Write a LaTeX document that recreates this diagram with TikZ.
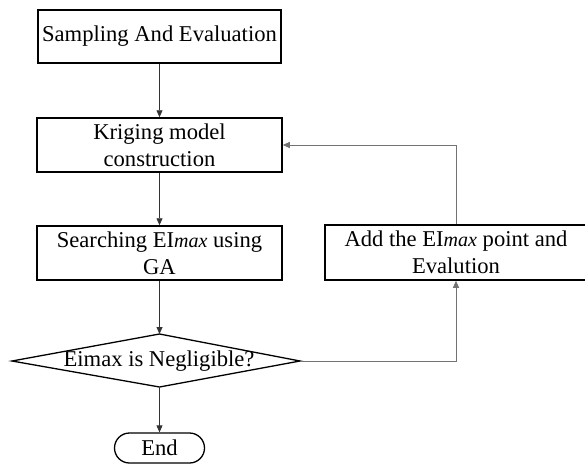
\documentclass[tikz,border=0pt]{standalone}
\usepackage{fontspec}
\setmainfont{Liberation Serif}
\usetikzlibrary{arrows.meta,shapes.misc}
\begin{document}
\begin{tikzpicture}[x=1pt,y=-1pt,
  font=\fontsize{22.6}{27}\selectfont,
  procbox/.style={draw=black,line width=1.5pt,rectangle,inner sep=0pt,align=center},
  decline/.style={draw=black,line width=1.3pt,line join=miter},
  termbox/.style={draw=black,line width=1.3pt,rounded rectangle,inner sep=0pt,minimum width=90pt,minimum height=30pt},
  flow/.style={draw=black!80,line width=0.8pt,-{Triangle[length=7pt,width=6pt]}},
  back/.style={draw=black!55,line width=0.9pt,-{Triangle[length=7pt,width=6pt]}}]
\useasboundingbox (0,0) rectangle (585,466);
\node[procbox,minimum width=243pt,minimum height=53pt] (s) at (159.5,36.5) {Sampling And Evaluation};
\node[procbox,minimum width=245pt,minimum height=54pt] (k) at (159.5,145) {Kriging model\\construction};
\node[procbox,minimum width=245pt,minimum height=54pt] (g) at (159.5,253) {Searching EI{\fontsize{20}{27}\selectfont\itshape max} using\\GA};
\node[procbox,minimum width=262pt,minimum height=55pt] (a) at (456,252.5) {Add the EI{\fontsize{20}{27}\selectfont\itshape max} point and\\Evalution};
\coordinate (dT) at (159.5,334);
\coordinate (dR) at (300,361);
\coordinate (dB) at (159.5,387);
\coordinate (dL) at (12,361);
\draw[decline] (dT) -- (dR) -- (dB) -- (dL) -- cycle;
\node[inner sep=0pt] (d) at (159,361) {Eimax is Negligible?};
\node[termbox] (e) at (159.5,448) {End};
\draw[flow] (s) -- (k);
\draw[flow] (k) -- (g);
\draw[flow] (g.south -| dT) -- (dT);
\draw[flow] (dB) -- (e.north);
\draw[back] (dR) -| (a.south);
\draw[back] (a.north) |- (k.east);
\end{tikzpicture}
\end{document}
